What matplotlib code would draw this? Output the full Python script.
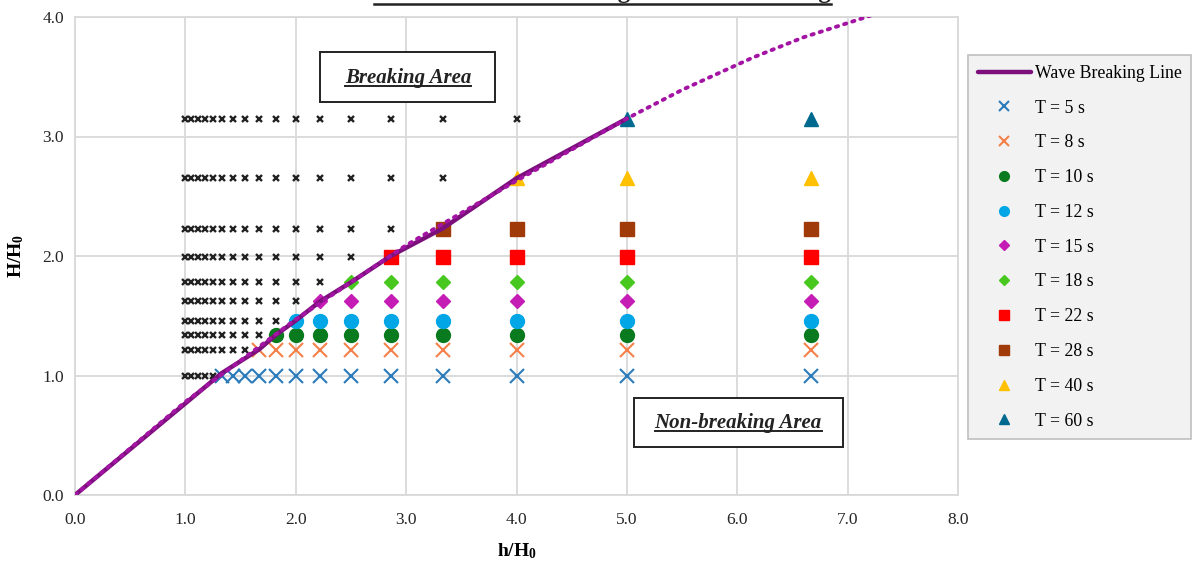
import matplotlib
matplotlib.use('Agg')
import matplotlib.pyplot as plt
from matplotlib.lines import Line2D
from matplotlib.patches import Rectangle
from matplotlib.transforms import IdentityTransform

plt.rcParams['font.family'] = ['Liberation Serif', 'DejaVu Serif']
plt.rcParams['mathtext.fontset'] = 'custom'
plt.rcParams['mathtext.rm'] = 'Liberation Serif'
plt.rcParams['mathtext.bf'] = 'Liberation Serif:bold'

# h/H0 of every test column
depth_ratio = [1.0, 1.05, 1.11, 1.18, 1.25, 1.33, 1.43, 1.54, 1.67, 1.82,
               2.0, 2.22, 2.5, 2.86, 3.33, 4.0, 5.0, 6.67]
# one row per wave period
period_labels = ['T = 5 s', 'T = 8 s', 'T = 10 s', 'T = 12 s', 'T = 15 s',
                 'T = 18 s', 'T = 22 s', 'T = 28 s', 'T = 40 s', 'T = 60 s']
height_ratio = [1.0, 1.21, 1.34, 1.46, 1.62, 1.78, 1.99, 2.23, 2.65, 3.15]
# first h/H0 where the wave no longer breaks
limit_depth = [1.33, 1.67, 1.82, 2.0, 2.22, 2.5, 2.86, 3.33, 4.0, 5.0]

# wave breaking line (solid) and its extension (dotted)
line_x = [0.0, 1.33, 1.67, 1.82, 2.0, 2.22, 2.5, 2.86, 3.33, 4.0, 5.0]
line_y = [0.0, 1.02, 1.22, 1.34, 1.46, 1.62, 1.78, 2.0, 2.23, 2.65, 3.15]
fit_x = [0.0, 1.0, 2.0, 3.0, 4.0, 5.0, 5.5, 6.14, 6.6, 7.17, 7.3]
fit_y = [0.0, 0.78, 1.47, 2.09, 2.63, 3.15, 3.39, 3.66, 3.83, 4.0, 4.04]

styles = [
    dict(marker='x', color='#2b7bba', ms=10, mew=1.5),
    dict(marker='x', color='#f5804a', ms=10, mew=1.5),
    dict(marker='o', color='#0a7a1e', ms=10),
    dict(marker='o', color='#00a6e6', ms=10),
    dict(marker='D', color='#c41cb4', ms=7),
    dict(marker='D', color='#48c81e', ms=7),
    dict(marker='s', color='#ff0000', ms=9.5),
    dict(marker='s', color='#a03a08', ms=9.5),
    dict(marker='^', color='#ffc000', ms=10),
    dict(marker='^', color='#00698f', ms=10),
]

fig = plt.figure(figsize=(11.95, 5.61), dpi=100)
ax = fig.add_axes([75 / 1195, 66 / 561, 883 / 1195, 478 / 561])

handles = []
ln, = ax.plot(line_x, line_y, color='#7b0f7b', lw=3.2, zorder=4,
              solid_capstyle='round', label='Wave Breaking Line')
ax.plot(fit_x, fit_y, color='#a414a4', lw=2.8, ls=(0, (0.6, 1.6)),
        dash_capstyle='round', zorder=5)
handles.append(ln)

for lab, hr, lim, st in zip(period_labels, height_ratio, limit_depth, styles):
    brk = [d for d in depth_ratio if d < lim]
    ok = [d for d in depth_ratio if d >= lim]
    ax.plot(brk, [hr] * len(brk), ls='none', marker='x', color='#222222',
            ms=5, mew=1.7, zorder=3)
    h, = ax.plot(ok, [hr] * len(ok), ls='none', label=lab, zorder=3, **st)
    handles.append(h)

ax.set_xlim(0, 8)
ax.set_ylim(0, 4)
ax.set_xticks([0, 1, 2, 3, 4, 5, 6, 7, 8])
ax.set_yticks([0, 1, 2, 3, 4])
ax.set_xticklabels(['%.1f' % v for v in range(9)])
ax.set_yticklabels(['%.1f' % v for v in range(5)])
ax.tick_params(length=0, labelsize=12.5, colors='#262626')
ax.tick_params(axis='x', pad=12)
ax.tick_params(axis='y', pad=8)
ax.grid(True, color='#d9d9d9', lw=1.3)
ax.set_axisbelow(True)
for s in ax.spines.values():
    s.set_color('#d9d9d9')
    s.set_linewidth(1.3)

ax.set_xlabel(r'$\mathbf{h/H_0}$', fontsize=14, labelpad=10)
ax.set_ylabel(r'$\mathbf{H/H_0}$', fontsize=14, labelpad=12)

leg = ax.legend(handles=handles, loc='upper left',
                bbox_to_anchor=(968 / 1195, 1 - 55 / 561),
                bbox_transform=fig.transFigure, borderaxespad=0,
                fontsize=12.8, labelspacing=1.0, handlelength=3.0,
                handletextpad=0.2, markerscale=0.7, fancybox=False,
                framealpha=1, facecolor='#f2f2f2', edgecolor='#bfbfbf',
                borderpad=0.55)
leg.get_frame().set_linewidth(1.2)

# text boxes
ax.add_patch(Rectangle((0.2775, 0.822), 0.198, 0.1046, transform=ax.transAxes,
                       fill=True, facecolor='white', edgecolor='#222222',
                       lw=1.4, zorder=6))
ax.add_patch(Rectangle((0.633, 0.1004), 0.2367, 0.1025, transform=ax.transAxes,
                       fill=True, facecolor='white', edgecolor='#222222',
                       lw=1.4, zorder=6))
t1 = ax.text(0.377, 0.872, 'Breaking Area', transform=ax.transAxes,
             ha='center', va='center', fontsize=15, fontweight='bold',
             fontstyle='italic', color='#222222', zorder=7)
t2 = ax.text(0.751, 0.151, 'Non-breaking Area', transform=ax.transAxes,
             ha='center', va='center', fontsize=15, fontweight='bold',
             fontstyle='italic', color='#222222', zorder=7)
# chart title sits mostly above the top edge, as in the original
title = fig.text(0.504, 1 - 3 / 561, 'Limit of Wave Breaking and Non-breaking',
                 ha='center', va='bottom', fontsize=18, fontweight='bold',
                 color='#222222')


def underline(t, frac, lw):
    fig.canvas.draw()
    bb = t.get_window_extent()
    y = bb.y0 + frac * bb.height
    fig.add_artist(Line2D([bb.x0, bb.x1], [y, y], color='#222222', lw=lw,
                          transform=IdentityTransform(), zorder=8))


underline(t1, 0.1, 1.4)
underline(t2, 0.1, 1.4)
underline(title, -0.05, 1.8)

fig.savefig('out.png', dpi=100)
